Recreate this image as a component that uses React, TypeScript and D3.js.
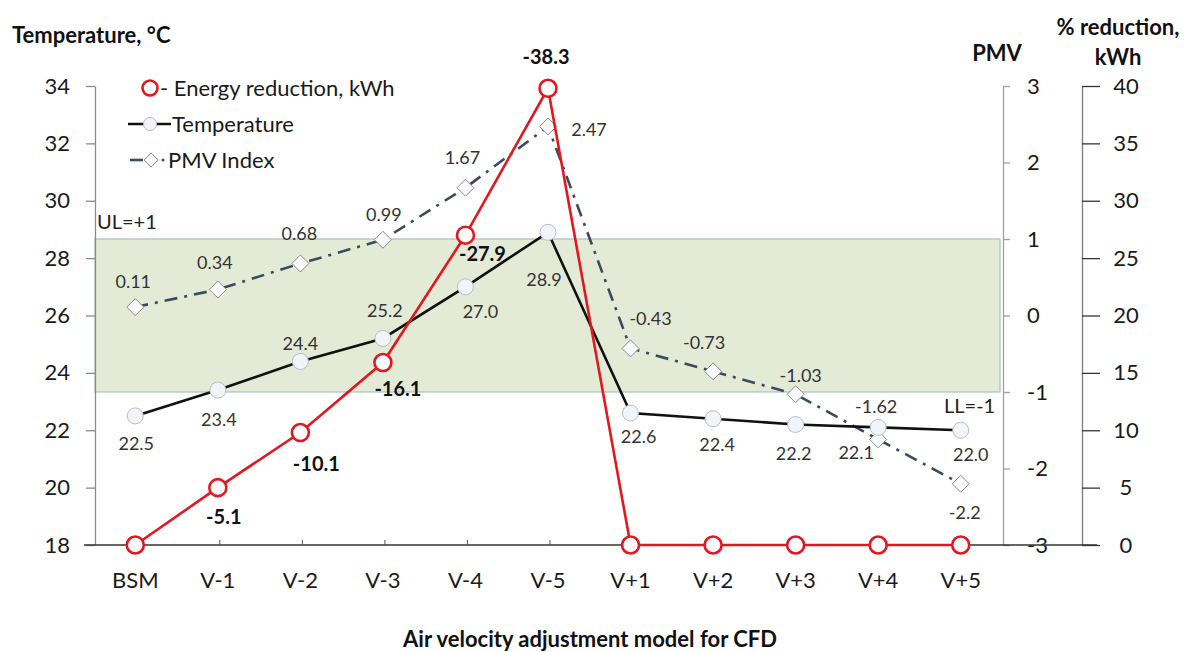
import React, { useEffect, useRef } from 'react';
import * as d3 from 'd3';

const categories = ['BSM', 'V-1', 'V-2', 'V-3', 'V-4', 'V-5', 'V+1', 'V+2', 'V+3', 'V+4', 'V+5'];
const temperature = [22.5, 23.4, 24.4, 25.2, 27.0, 28.9, 22.6, 22.4, 22.2, 22.1, 22.0];
const pmv = [0.11, 0.34, 0.68, 0.99, 1.67, 2.47, -0.43, -0.73, -1.03, -1.62, -2.2];
const energy = [0, 5.0, 9.8, 15.9, 27.0, 39.8, 0, 0, 0, 0, 0];
const energyLabels = ['', '-5.1', '-10.1', '-16.1', '-27.9', '-38.3', '', '', '', '', ''];
const tempTicks = [18, 20, 22, 24, 26, 28, 30, 32, 34];
const pmvTicks = [-3, -2, -1, 0, 1, 2, 3];
const energyTicks = [0, 5, 10, 15, 20, 25, 30, 35, 40];

// label offsets from their point (dx, dy)
const tempOffsets = [[1, 28], [1, 30], [0, -18], [2, -28], [15, 25], [-4, 47], [8, 24], [4, 26], [-2, 29], [-22, 25], [10, 24]];
const pmvOffsets = [[-2, -25], [-3, -27], [-1, -30], [1, -25], [-3, -30], [41, 3], [20, -30], [-9, -29], [5, -19], [-2, -33], [4, 29]];
const energyOffsets = [[0, 0], [6, 29], [16, 31], [15, 26], [17, 19], [-2, -31]];

const FONT = "Lato, 'Open Sans', sans-serif";

const App: React.FC = () => {
  const ref = useRef<SVGSVGElement>(null);

  useEffect(() => {
    if (!ref.current) return;
    const svg = d3.select(ref.current);
    svg.selectAll('*').remove();
    svg.style('font-family', FONT);

    const top = 86, bottom = 545, left = 95, pmvX = 1003, enX = 1082;

    const x = d3.scalePoint<string>().domain(categories).range([94, 1002]).padding(0.5);
    const yT = d3.scaleLinear().domain([18, 34]).range([bottom, top]);
    const yP = d3.scaleLinear().domain([-3, 3]).range([bottom, top]);
    const yE = d3.scaleLinear().domain([0, 40]).range([bottom, top]);

    // comfort band between PMV -1 and +1
    svg.append('rect')
      .attr('x', left)
      .attr('y', yP(1))
      .attr('width', 1000 - left)
      .attr('height', yP(-1) - yP(1))
      .attr('fill', '#e3ebd6')
      .attr('stroke', '#a9bfb9')
      .attr('stroke-width', 1.2);

    const styleAxis = (g: any, color = '#8a8a8a') => {
      g.select('.domain').attr('stroke', color).attr('stroke-width', 1.3);
      g.selectAll('.tick line').attr('stroke', color).attr('stroke-width', 1.3);
      g.selectAll('.tick text').attr('fill', '#1a1a1a').style('font-size', '22px').style('font-family', FONT);
    };

    // left axis
    const gl = svg.append('g').attr('transform', `translate(${left},0)`)
      .call(d3.axisLeft(yT).tickValues(tempTicks).tickSize(9).tickSizeOuter(0).tickPadding(16));
    styleAxis(gl);

    // PMV axis
    const gp = svg.append('g').attr('transform', `translate(${pmvX},0)`)
      .call(d3.axisRight(yP).tickValues(pmvTicks).tickSize(7).tickSizeOuter(0).tickPadding(17).tickFormat(d3.format('d')));
    styleAxis(gp, '#a0a0a0');
    gp.selectAll('.tick text').text((d: any) => (d < 0 ? '-' + Math.abs(d) : String(d)));

    // energy axis
    const ge = svg.append('g').attr('transform', `translate(${enX},0)`)
      .call(d3.axisRight(yE).tickValues(energyTicks).tickSize(18).tickSizeOuter(0).tickPadding(0));
    styleAxis(ge, '#7a7a7a');
    ge.selectAll('.tick line').attr('stroke', '#333');
    ge.selectAll('.tick text').attr('x', 44).attr('text-anchor', 'middle');

    // bottom axis line + ticks
    svg.append('line').attr('x1', 84).attr('x2', 1097).attr('y1', bottom).attr('y2', bottom)
      .attr('stroke', '#333').attr('stroke-width', 1.3);
    svg.append('g').selectAll('line').data(categories).enter().append('line')
      .attr('x1', d => (x(d) as number) + 2).attr('x2', d => (x(d) as number) + 2)
      .attr('y1', bottom - 5).attr('y2', bottom)
      .attr('stroke', '#555').attr('stroke-width', 1);
    svg.append('g').selectAll('text').data(categories).enter().append('text')
      .attr('x', d => x(d) as number).attr('y', 580)
      .attr('dy', '0.35em').attr('text-anchor', 'middle')
      .style('font-size', '22px').attr('fill', '#1a1a1a')
      .text(d => d);

    // axis titles
    svg.append('text').attr('x', 12).attr('y', 43).style('font-size', '22px').style('font-weight', 'bold')
      .attr('fill', '#111').text('Temperature, °C');
    svg.append('text').attr('x', 997).attr('y', 61).attr('text-anchor', 'middle').style('font-size', '22px')
      .style('font-weight', 'bold').attr('fill', '#111').text('PMV');
    svg.append('text').attr('x', 1118).attr('y', 35).attr('text-anchor', 'middle').style('font-size', '22px')
      .style('font-weight', 'bold').attr('fill', '#111').text('% reduction,');
    svg.append('text').attr('x', 1118).attr('y', 65).attr('text-anchor', 'middle').style('font-size', '22px')
      .style('font-weight', 'bold').attr('fill', '#111').text('kWh');
    svg.append('text').attr('x', 590).attr('y', 647).attr('text-anchor', 'middle').style('font-size', '22px')
      .style('font-weight', 'bold').attr('fill', '#111').text('Air velocity adjustment model for CFD');

    svg.append('text').attr('x', 97).attr('y', 229).style('font-size', '20px').attr('fill', '#222').text('UL=+1');
    svg.append('text').attr('x', 944).attr('y', 413).style('font-size', '20px').attr('fill', '#222').text('LL=-1');

    const idx = d3.range(categories.length);
    const diamond = (cx: number, cy: number, r: number) => `M${cx},${cy - r}L${cx + r},${cy}L${cx},${cy + r}L${cx - r},${cy}Z`;

    // PMV series
    const lineP = d3.line<number>().x(i => x(categories[i]) as number).y(i => yP(pmv[i]));
    svg.append('path').attr('d', lineP(idx) as string).attr('fill', 'none')
      .attr('stroke', '#3b4a5c').attr('stroke-width', 2.6).attr('stroke-dasharray', '13,7,3,7');
    svg.append('g').selectAll('path').data(idx).enter().append('path')
      .attr('d', i => diamond(x(categories[i]) as number, yP(pmv[i]), 8.5))
      .attr('fill', '#fbfbfb').attr('stroke', '#8a8a8a').attr('stroke-width', 1);
    svg.append('g').selectAll('text').data(idx).enter().append('text')
      .attr('x', i => (x(categories[i]) as number) + pmvOffsets[i][0])
      .attr('y', i => yP(pmv[i]) + pmvOffsets[i][1])
      .attr('dy', '0.35em').attr('text-anchor', 'middle')
      .style('font-size', '18px').attr('fill', '#333')
      .text(i => String(pmv[i]));

    // temperature series
    const lineT = d3.line<number>().x(i => x(categories[i]) as number).y(i => yT(temperature[i]));
    svg.append('path').attr('d', lineT(idx) as string).attr('fill', 'none')
      .attr('stroke', '#111').attr('stroke-width', 2.6);
    svg.append('g').selectAll('circle').data(idx).enter().append('circle')
      .attr('cx', i => x(categories[i]) as number).attr('cy', i => yT(temperature[i])).attr('r', 8)
      .attr('fill', '#f1f4f8').attr('stroke', '#b5bec8').attr('stroke-width', 1);
    svg.append('g').selectAll('text').data(idx).enter().append('text')
      .attr('x', i => (x(categories[i]) as number) + tempOffsets[i][0])
      .attr('y', i => yT(temperature[i]) + tempOffsets[i][1])
      .attr('dy', '0.35em').attr('text-anchor', 'middle')
      .style('font-size', '18px').attr('fill', '#333')
      .text(i => temperature[i].toFixed(1));

    // energy reduction series
    const lineE = d3.line<number>().x(i => x(categories[i]) as number).y(i => yE(energy[i]));
    svg.append('path').attr('d', lineE(idx) as string).attr('fill', 'none')
      .attr('stroke', '#e3171f').attr('stroke-width', 2.6);
    svg.append('g').selectAll('circle').data(idx).enter().append('circle')
      .attr('cx', i => x(categories[i]) as number).attr('cy', i => yE(energy[i])).attr('r', 8.5)
      .attr('fill', '#fff').attr('stroke', '#e3171f').attr('stroke-width', 2.6);
    svg.append('g').selectAll('text').data(idx.filter(i => energyLabels[i] !== '')).enter().append('text')
      .attr('x', i => (x(categories[i]) as number) + energyOffsets[i][0])
      .attr('y', i => yE(energy[i]) + energyOffsets[i][1])
      .attr('dy', '0.35em').attr('text-anchor', 'middle')
      .style('font-size', '20px').style('font-weight', 'bold').attr('fill', '#111')
      .text(i => energyLabels[i]);

    // legend
    const lg = svg.append('g');
    lg.append('circle').attr('cx', 150).attr('cy', 88).attr('r', 7.5)
      .attr('fill', '#fff').attr('stroke', '#e3171f').attr('stroke-width', 2.6);
    lg.append('text').attr('x', 160).attr('y', 88).attr('dy', '0.35em').style('font-size', '22px')
      .attr('fill', '#1a1a1a').text('- Energy reduction, kWh');
    lg.append('line').attr('x1', 128).attr('x2', 171).attr('y1', 124).attr('y2', 124)
      .attr('stroke', '#111').attr('stroke-width', 2.6);
    lg.append('circle').attr('cx', 150).attr('cy', 124).attr('r', 6.5)
      .attr('fill', '#f1f4f8').attr('stroke', '#b5bec8').attr('stroke-width', 1);
    lg.append('text').attr('x', 172).attr('y', 124).attr('dy', '0.35em').style('font-size', '22px')
      .attr('fill', '#1a1a1a').text('Temperature');
    lg.append('line').attr('x1', 130).attr('x2', 143).attr('y1', 160).attr('y2', 160)
      .attr('stroke', '#3b4a5c').attr('stroke-width', 2.6);
    lg.append('path').attr('d', diamond(151, 160, 7)).attr('fill', '#fbfbfb').attr('stroke', '#8a8a8a').attr('stroke-width', 1);
    lg.append('circle').attr('cx', 163).attr('cy', 160).attr('r', 1.5).attr('fill', '#3b4a5c');
    lg.append('text').attr('x', 168).attr('y', 160).attr('dy', '0.35em').style('font-size', '22px')
      .attr('fill', '#1a1a1a').text('PMV Index');
  }, []);

  return (
    <svg
      ref={ref}
      width={1193}
      height={652}
      style={{ position: 'absolute', left: 0, top: 0, background: '#fff' }}
    />
  );
};

export default App;
